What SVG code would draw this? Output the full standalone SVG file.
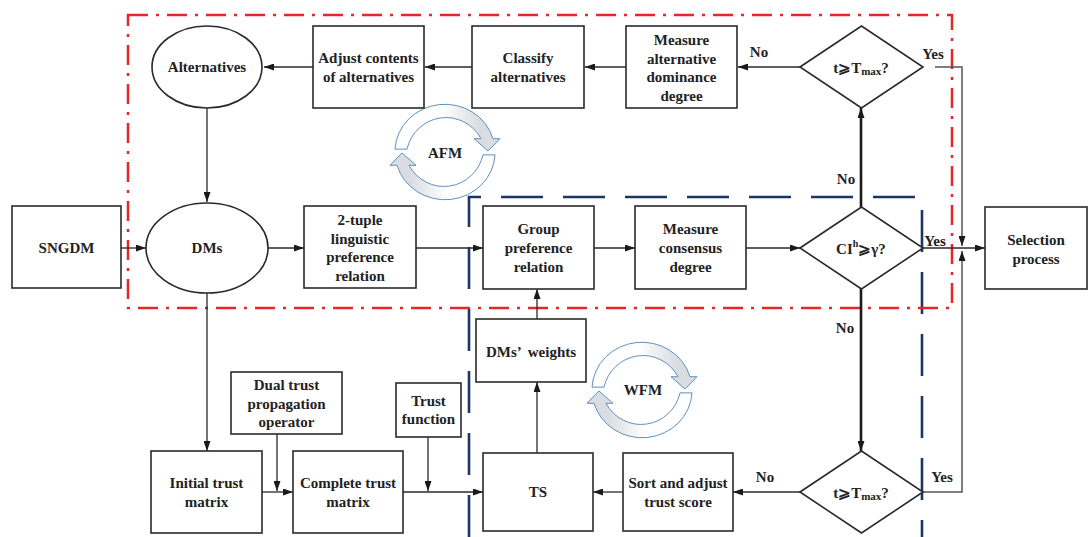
<svg xmlns="http://www.w3.org/2000/svg" width="1088" height="537" viewBox="0 0 1088 537">
<style>
.bx{fill:#fff;stroke:#2a2a2a;stroke-width:1.6}
.t{font-family:"Liberation Serif","Times New Roman",serif;font-weight:bold;font-size:15px;fill:#222;text-anchor:middle}
.lb{font-family:"Liberation Serif","Times New Roman",serif;font-weight:bold;font-size:15px;fill:#222;text-anchor:middle}
.c{fill:none;stroke:#2a2a2a;stroke-width:1.3;marker-end:url(#ah)}
.g{fill:none;stroke:#555;stroke-width:1.5;marker-end:url(#ah)}
.k{fill:none;stroke:#1a1a1a;stroke-width:2.6;marker-end:url(#ah)}
.red{fill:none;stroke:#e8262a;stroke-width:2.5;stroke-dasharray:20 8 3 8}
.blue{fill:none;stroke:#1d3566;stroke-width:2.6;stroke-dasharray:42 20}
.cy{fill:url(#gr);stroke:#5a8cbf;stroke-width:1}
</style>
<defs>
<marker id="ah" viewBox="0 0 10 7" refX="10" refY="3.5" markerWidth="10" markerHeight="7" orient="auto" markerUnits="userSpaceOnUse">
<path d="M0,0 L10,3.5 L0,7 z" fill="#1a1a1a"/>
</marker>
<linearGradient id="gr" x1="0" y1="0" x2="1" y2="0">
<stop offset="0.45" stop-color="#ffffff"/>
<stop offset="0.8" stop-color="#d9dde2"/>
</linearGradient>
<path id="cyc" d="M -50,-3 A 50 50 0 0 1 48,-14 L 55,-14 L 43,-1 L 29,-14 L 36,-14 A 40 43 0 0 0 -38,-3 Z"/>
</defs>

<rect x="0" y="0" width="1088" height="537" fill="#fff"/>

<!-- region boxes -->
<g id="regions">
<path class="blue" d="M469,537 L469,197 L922,197 L922,537"/>
<rect class="red" x="128" y="15" width="824" height="293"/>
</g>

<!-- cycle symbols -->
<g id="AFM">
<g transform="translate(445,152) scale(1,0.95)">
<use href="#cyc" class="cy"/>
<use href="#cyc" class="cy" transform="rotate(180)"/>
</g>
<text class="t" x="445" y="158" font-size="16">AFM</text>
</g>
<g id="WFM">
<g transform="translate(642,390) scale(1,0.95)">
<use href="#cyc" class="cy"/>
<use href="#cyc" class="cy" transform="rotate(180)"/>
</g>
<text class="t" x="643" y="395" font-size="16">WFM</text>
</g>

<!-- connectors -->
<g id="connectors">
<line class="c" x1="800" y1="67" x2="738" y2="67"/>
<line class="c" x1="626" y1="67" x2="585" y2="67"/>
<line class="c" x1="472" y1="67" x2="425" y2="67"/>
<line class="c" x1="313" y1="67" x2="264" y2="67"/>
<line class="c" x1="207" y1="108" x2="207" y2="202"/>
<line class="c" x1="121" y1="248" x2="146" y2="248"/>
<line class="c" x1="268" y1="248" x2="304" y2="248"/>
<line class="c" x1="416" y1="248" x2="483" y2="248"/>
<line class="c" x1="594" y1="248" x2="635" y2="248"/>
<line class="c" x1="746" y1="248" x2="800" y2="248"/>
<line class="c" x1="923" y1="248" x2="985" y2="248"/>
<polyline class="g" points="935,67 962,67 962,246"/>
<polyline class="g" points="923,492 962,492 962,251"/>
<line class="k" x1="861" y1="207" x2="861" y2="108"/>
<line class="k" x1="861" y1="288" x2="861" y2="451"/>
<line class="c" x1="800" y1="492" x2="733" y2="492"/>
<line class="c" x1="623" y1="492" x2="593" y2="492"/>
<line class="c" x1="537" y1="453" x2="537" y2="382"/>
<line class="c" x1="537" y1="319" x2="537" y2="289"/>
<line class="c" x1="207" y1="293" x2="207" y2="451"/>
<line class="c" x1="262" y1="492" x2="293" y2="492"/>
<line class="c" x1="277" y1="434" x2="277" y2="491"/>
<line class="c" x1="403" y1="492" x2="483" y2="492"/>
<line class="c" x1="428" y1="437" x2="428" y2="491"/>
<text class="lb" x="759" y="57">No</text>
<text class="lb" x="933" y="59">Yes</text>
<text class="lb" x="846" y="184">No</text>
<text class="lb" x="935" y="246">Yes</text>
<text class="lb" x="845" y="333">No</text>
<text class="lb" x="765" y="482">No</text>
<text class="lb" x="942" y="482">Yes</text>
</g>

<!-- nodes -->
<g id="alternatives">
<ellipse class="bx" cx="207" cy="67" rx="55" ry="41"/>
<text class="t" x="207" y="72">Alternatives</text>
</g>
<g id="adjust">
<rect class="bx" x="313" y="26" width="111" height="82"/>
<text class="t" x="368.5" y="63">Adjust contents</text>
<text class="t" x="368.5" y="82">of alternatives</text>
</g>
<g id="classify">
<rect class="bx" x="472" y="26" width="112" height="82"/>
<text class="t" x="528" y="63">Classify</text>
<text class="t" x="528" y="82">alternatives</text>
</g>
<g id="measure-dominance">
<rect class="bx" x="626" y="26" width="111" height="82"/>
<text class="t" x="681.5" y="45">Measure</text>
<text class="t" x="681.5" y="63.5">alternative</text>
<text class="t" x="681.5" y="82">dominance</text>
<text class="t" x="681.5" y="101">degree</text>
</g>
<g id="tmax-top">
<polygon class="bx" points="800,67 861.5,26 923,67 861.5,108"/>
<text class="t" x="861" y="73" font-size="16">t⩾T<tspan font-size="11" dy="2">max</tspan><tspan dy="-2">?</tspan></text>
</g>
<g id="sngdm">
<rect class="bx" x="12" y="206" width="109" height="82"/>
<text class="t" x="66.5" y="253">SNGDM</text>
</g>
<g id="dms">
<ellipse class="bx" cx="207" cy="248" rx="61" ry="45"/>
<text class="t" x="207" y="253">DMs</text>
</g>
<g id="two-tuple">
<rect class="bx" x="304" y="206" width="112" height="82"/>
<text class="t" x="360" y="225">2-tuple</text>
<text class="t" x="360" y="243.5">linguistic</text>
<text class="t" x="360" y="262">preference</text>
<text class="t" x="360" y="280.5">relation</text>
</g>
<g id="group-preference">
<rect class="bx" x="483" y="206" width="111" height="83"/>
<text class="t" x="538.5" y="234">Group</text>
<text class="t" x="538.5" y="253">preference</text>
<text class="t" x="538.5" y="271.5">relation</text>
</g>
<g id="measure-consensus">
<rect class="bx" x="635" y="206" width="111" height="83"/>
<text class="t" x="690.5" y="234">Measure</text>
<text class="t" x="690.5" y="253">consensus</text>
<text class="t" x="690.5" y="271.5">degree</text>
</g>
<g id="ci">
<polygon class="bx" points="800,248 861.5,207 923,248 861.5,289"/>
<text class="t" x="861" y="254" font-size="17" font-weight="normal">CI<tspan font-size="10" dy="-7">h</tspan><tspan dy="7">⩾γ?</tspan></text>
</g>
<g id="selection">
<rect class="bx" x="985" y="207" width="102" height="82"/>
<text class="t" x="1036" y="245">Selection</text>
<text class="t" x="1036" y="264">process</text>
</g>
<g id="dms-weights">
<rect class="bx" x="476" y="319" width="110" height="63"/>
<text class="t" x="531" y="357">DMs’<tspan dx="6">weights</tspan></text>
</g>
<g id="dual-trust">
<rect class="bx" x="231" y="372" width="111" height="62"/>
<text class="t" x="286.5" y="390">Dual trust</text>
<text class="t" x="286.5" y="408.5">propagation</text>
<text class="t" x="286.5" y="427">operator</text>
</g>
<g id="trust-function">
<rect class="bx" x="396" y="383" width="65" height="54"/>
<text class="t" x="428.5" y="406">Trust</text>
<text class="t" x="428.5" y="424">function</text>
</g>
<g id="initial-trust">
<rect class="bx" x="151" y="451" width="111" height="82"/>
<text class="t" x="206.5" y="488">Initial trust</text>
<text class="t" x="206.5" y="507">matrix</text>
</g>
<g id="complete-trust">
<rect class="bx" x="293" y="451" width="110" height="82"/>
<text class="t" x="348" y="488">Complete trust</text>
<text class="t" x="348" y="507">matrix</text>
</g>
<g id="ts">
<rect class="bx" x="483" y="453" width="110" height="78"/>
<text class="t" x="538" y="497">TS</text>
</g>
<g id="sort-adjust">
<rect class="bx" x="623" y="453" width="110" height="78"/>
<text class="t" x="678" y="488">Sort and adjust</text>
<text class="t" x="678" y="507">trust score</text>
</g>
<g id="tmax-bottom">
<polygon class="bx" points="800,492 861.5,451 923,492 861.5,533"/>
<text class="t" x="861" y="498" font-size="16">t⩾T<tspan font-size="11" dy="2">max</tspan><tspan dy="-2">?</tspan></text>
</g>
</svg>
